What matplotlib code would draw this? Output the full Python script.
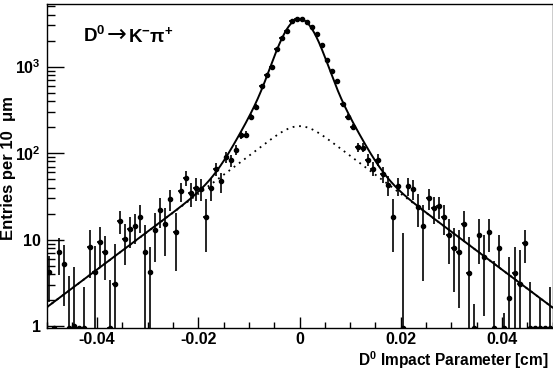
import math
import numpy as np
import matplotlib
matplotlib.use("Agg")
import matplotlib.pyplot as plt
from matplotlib.ticker import MultipleLocator, FixedLocator, FixedFormatter, LogLocator, NullFormatter

# ---------------- data ----------------
x_lo, x_hi, n_bins = -0.05, 0.05, 100

counts = [
    4.2, 0, 7.2, 5.2, 0, 1.0, 0, 0, 8.2, 4.2,
    9.4, 7.2, 0, 3.1, 16.4, 10.1, 13.1, 14.3, 18.3, 7.2,
    4.2, 13, 22, 15, 29.5, 12.3, 36.5, 52, 34.6, 39.7,
    38.6, 18.2, 40, 65, 47, 89, 83, 109, 160, 163,
    265, 345, 600, 810, 985, 1600, 2130, 2600, 3350, 3550,
    3550, 3250, 2860, 2370, 1790, 1200, 900, 690, 365, 265,
    203, 117, 116, 84, 66, 84, 57, 43, 18.2, 42,
    0, 42, 38.6, 23.8, 14.3, 30, 23.3, 24.5, 18.2, 11.2,
    8.1, 7.2, 15.3, 4.1, 0, 11.2, 6.3, 12.2, 0, 8.1,
    0, 2.1, 4.1, 3.1, 9.2, 0, 0, 0, 0, 0,
]

errors = [
    2.3, 0, 3.3, 3.5, 3.8, 3.8, 0, 2.8, 4.6, 4.3,
    4.7, 3.8, 3.4, 5.8, 4.8, 5.0, 5.2, 5.5, 6.5, 7.4,
    4.1, 7.5, 8.5, 8.5, 8, 8, 9, 10, 11, 12,
    11, 11, 12, 11, 12, 13, 13, 14, 15, 15,
    18, 20, 26, 30, 33, 41, 47, 52, 58, 60,
    60, 57, 54, 49, 43, 35, 31, 27, 20, 18,
    16, 14, 14, 13, 12, 13, 12, 11, 11, 10,
    11.8, 10, 10, 10, 11, 8, 8, 7, 7, 6,
    5.6, 5.6, 6, 6.6, 1.8, 6, 5, 5, 5.6, 3.3,
    1.4, 4.2, 4.1, 4.4, 3.8, 3.2, 0, 2.1, 0, 2.8,
]

# fit model parameters (double Gaussian signal + smeared exponential background)
sig_amp1, sig_width1 = 2665.0, 0.0030
sig_amp2, sig_width2 = 700.0, 0.0058
bkg_peak, bkg_tau, bkg_res = 205.0, 0.0099, 0.0025

x_ticks = [-0.04, -0.02, 0.0, 0.02, 0.04]
x_tick_labels = ["-0.04", "-0.02", "0", "0.02", "0.04"]
y_ticks = [1, 10, 100, 1000]
y_tick_labels = ["1", "10", r"$\mathbf{10^{2}}$", r"$\mathbf{10^{3}}$"]
y_lo, y_hi = 0.95, 5300

# ---------------- style ----------------
plt.rcParams["font.family"] = ["Liberation Sans", "DejaVu Sans"]
plt.rcParams["font.weight"] = "bold"
plt.rcParams["mathtext.fontset"] = "custom"
plt.rcParams["mathtext.rm"] = "Liberation Sans:bold"
plt.rcParams["mathtext.bf"] = "Liberation Sans:bold"
plt.rcParams["mathtext.it"] = "Liberation Sans:bold:italic"
plt.rcParams["mathtext.sf"] = "Liberation Sans:bold"

W, H = 553, 370
fig = plt.figure(figsize=(W / 100, H / 100), dpi=100)
ax = fig.add_axes([46.5 / W, 1 - 328 / H, 506 / W, 324 / H])

# ---------------- model curves ----------------
erfc = np.vectorize(math.erfc)


def bkg_shape(x):
    s = bkg_res / bkg_tau
    t = x / bkg_res
    return 0.5 * (np.exp(-x / bkg_tau) * erfc((s - t) / math.sqrt(2))
                  + np.exp(x / bkg_tau) * erfc((s + t) / math.sqrt(2)))


xf = np.linspace(x_lo, x_hi, 1201)
bkg = bkg_peak * bkg_shape(xf) / bkg_shape(np.array([0.0]))[0]
sig = (sig_amp1 * np.exp(-0.5 * (xf / sig_width1) ** 2)
       + sig_amp2 * np.exp(-0.5 * (xf / sig_width2) ** 2))

ax.plot(xf, sig + bkg, color="black", lw=1.4, zorder=3)
ax.plot(xf, bkg, color="black", lw=1.3, ls=(0, (1, 2.6)), zorder=3)

# ---------------- data points ----------------
edges = np.linspace(x_lo, x_hi, n_bins + 1)
centers = 0.5 * (edges[:-1] + edges[1:])
half_w = 0.5 * (edges[1] - edges[0])
c = np.array(counts, dtype=float)
e = np.array(errors, dtype=float)
disp = np.where(c > 0, c, y_lo)
lower = disp - np.maximum(c - e, y_lo)
upper = np.maximum(c + e - disp, 0)
ax.errorbar(centers, disp, yerr=[lower, upper], xerr=half_w, fmt="o", ms=3.0,
            color="black", ecolor="black", elinewidth=1.2, capsize=0, zorder=4)

# ---------------- axes ----------------
ax.set_yscale("log")
ax.set_xlim(x_lo, x_hi)
ax.set_ylim(y_lo, y_hi)

ax.xaxis.set_major_locator(FixedLocator(x_ticks))
ax.xaxis.set_major_formatter(FixedFormatter(x_tick_labels))
ax.xaxis.set_minor_locator(MultipleLocator(0.005))
ax.yaxis.set_major_locator(FixedLocator(y_ticks))
ax.yaxis.set_major_formatter(FixedFormatter(y_tick_labels))
ax.yaxis.set_minor_locator(LogLocator(base=10, subs=np.arange(2, 10)))
ax.yaxis.set_minor_formatter(NullFormatter())

ax.tick_params(axis="x", which="major", direction="in", length=8, width=1,
               labelsize=11.5, pad=3, top=False)
ax.tick_params(axis="x", which="minor", direction="in", length=4, width=1, top=False)
ax.tick_params(axis="y", which="major", direction="in", length=12, width=1,
               labelsize=11.5, pad=4, right=False)
ax.tick_params(axis="y", which="minor", direction="in", length=6, width=1, right=False)
for lab in ax.get_xticklabels() + ax.get_yticklabels():
    lab.set_fontweight("bold")
for sp in ax.spines.values():
    sp.set_linewidth(1.0)

# ---------------- decay label, built from pieces ----------------
fig.canvas.draw()
renderer = fig.canvas.get_renderer()
inv = ax.transAxes.inverted()
lab_y = 0.883
t1 = ax.text(0.073, lab_y, r"$\mathbf{D^{0}}$", transform=ax.transAxes,
             fontsize=13.5, va="baseline", ha="left")
x_next = inv.transform((t1.get_window_extent(renderer).x1 + 1, 0))[0]
t2 = ax.text(x_next, lab_y, "\u2192", transform=ax.transAxes, family="DejaVu Sans",
             fontweight="normal", fontsize=17, va="baseline", ha="left")
x_next = inv.transform((t2.get_window_extent(renderer).x1 + 1, 0))[0]
ax.text(x_next, lab_y, r"$\mathbf{K^{-}\pi^{+}}$", transform=ax.transAxes,
        fontsize=13.5, va="baseline", ha="left")

fig.text(548 / W, 1 - 366 / H, r"$\mathbf{D^{0}}$ Impact Parameter [cm]",
         ha="right", va="baseline", fontsize=11.2, fontweight="bold")
fig.text(9 / W, 1 - 168 / H, "Entries per 10  \u03bcm", rotation=90,
         ha="center", va="center", fontsize=12, fontweight="bold")

fig.savefig("out.png", dpi=100)
